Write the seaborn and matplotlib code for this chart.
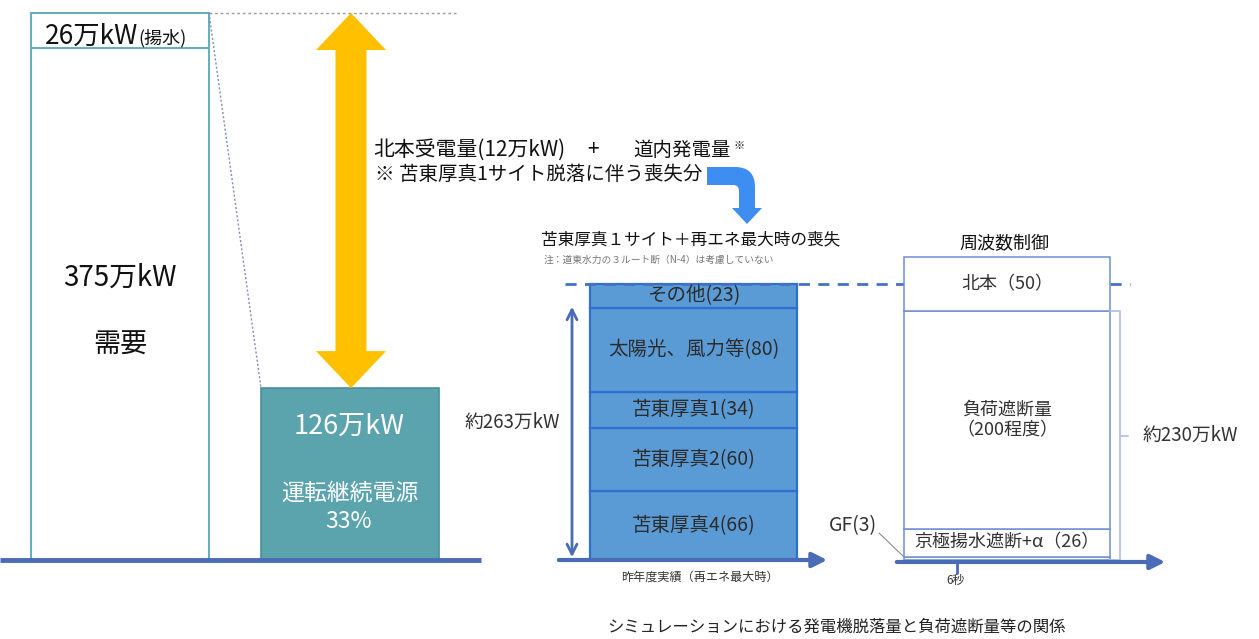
import numpy as np
import matplotlib.pyplot as plt
import seaborn as sns
from matplotlib.patches import Polygon, PathPatch
from matplotlib.path import Path

sns.set_theme(style='white')
plt.rcParams['font.family'] = ['Noto Sans CJK JP', 'DejaVu Sans']

# 左: 需要と運転継続電源 (万kW)
demand = 375
pumped = 26
continuing = 126
continuing_share = 33

# 中: 苫東厚真1サイト+再エネ最大時の喪失 (万kW)
loss_labels = ['苫東厚真4', '苫東厚真2', '苫東厚真1', '太陽光、風力等', 'その他']
loss_values = [66, 60, 34, 80, 23]

# 右: 周波数制御 (万kW)
ctrl_labels = ['GF', '京極揚水遮断+α', '負荷遮断量', '北本']
ctrl_values = [3, 26, 200, 50]
ctrl_approx = 230

W, H = 1259, 639
BASE = 560
LINE = '#4a6bb5'
TEAL = '#6aaeb9'
DARK = '#2b2b2b'

fig = plt.figure(figsize=(W / 100, H / 100), dpi=100)


def panel(x0, x1, top, total):
    ax = fig.add_axes([x0 / W, (H - BASE) / H, (x1 - x0) / W, (BASE - top) / H])
    ax.set_xlim(x0, x1)
    ax.set_ylim(0, total)
    ax.axis('off')
    return ax


# 左パネル
axL = panel(0, 460, 13, demand + pumped)
axL.bar(120, demand, width=178, color='white', edgecolor=TEAL, lw=1.5, clip_on=False)
axL.bar(120, pumped, bottom=demand, width=178, color='white', edgecolor=TEAL, lw=1.5, clip_on=False)
axL.bar(350, continuing, width=178, color='#5ba3ad', edgecolor='#4b8e98', lw=1.2, clip_on=False)
px_left = (BASE - 13) / (demand + pumped)
y_cont = BASE - continuing * px_left

# 中パネル
axM = panel(440, 860, 284, sum(loss_values))
bottom = 0
for lab, v in zip(loss_labels, loss_values):
    axM.bar(693.5, v, bottom=bottom, width=207, color='#5b9bd5', edgecolor='#2f6fcf', lw=1.6, clip_on=False)
    axM.text(693.5, bottom + v / 2, f'{lab}({v})', ha='center', va='center', fontsize=14, color=DARK)
    bottom += v
axM.plot([565, 905], [bottom, bottom], ls=(0, (4, 3)), color='#4472c4', lw=2, clip_on=False)
axM.plot([1110, 1130], [bottom, bottom], ls=(0, (4, 3)), color='#4472c4', lw=2, clip_on=False)
top_arrow = bottom - loss_values[-1]
axM.annotate('', xy=(572, top_arrow + 4), xytext=(572, 0),
             arrowprops=dict(arrowstyle='<->', color=LINE, lw=2, mutation_scale=18),
             annotation_clip=False)
axM.text(560, sum(loss_values) * 0.5, f'約{sum(loss_values)}万kW', ha='right', va='center',
         fontsize=13.5, color='#333333')

# 右パネル
axR = panel(860, 1259, 257, sum(ctrl_values))
ctrl_text = ['', f'{ctrl_labels[1]}（{ctrl_values[1]}）',
             f'{ctrl_labels[2]}\n（{ctrl_values[2]}程度）', f'{ctrl_labels[3]}（{ctrl_values[3]}）']
bottom = 0
for txt, v in zip(ctrl_text, ctrl_values):
    axR.bar(1007, v, bottom=bottom, width=206, color='white', edgecolor='#6f8fd0', lw=1.1, clip_on=False)
    if txt:
        axR.text(1007, bottom + v / 2, txt, ha='center', va='center', fontsize=13,
                 color='#333333', linespacing=1.2)
    bottom += v
brk = sum(ctrl_values[:3])
axR.plot([1110, 1120, 1120, 1110], [brk, brk, 0, 0], color='#b4c2e2', lw=1.3, clip_on=False)
axR.plot([1120, 1128], [brk / 2, brk / 2], color='#b4c2e2', lw=1.3, clip_on=False)
axR.text(1143, brk / 2, f'約{ctrl_approx}万kW', ha='left', va='center', fontsize=13.5, color='#333333')

# 重ね描き用 (ピクセル座標)
ov = fig.add_axes([0, 0, 1, 1])
ov.set_xlim(0, W)
ov.set_ylim(H, 0)
ov.axis('off')

ov.plot([0, 481], [BASE, BASE], color=LINE, lw=3.5, solid_capstyle='butt')
ov.annotate('', xy=(830, BASE), xytext=(556, BASE),
            arrowprops=dict(arrowstyle='-|>', color=LINE, lw=3, mutation_scale=22))
ov.annotate('', xy=(1168, 562), xytext=(894, 562),
            arrowprops=dict(arrowstyle='-|>', color=LINE, lw=3, mutation_scale=22))
ov.plot([957, 957], [562, 573], color=LINE, lw=2)
ov.text(956, 580, '6秒', ha='center', va='center', fontsize=8.5, color='#333333')

# 点線
ov.plot([209, 456], [13, 13], ls=(0, (2, 2)), color='#9a9a9a', lw=1)
ov.plot([209, 261], [13, y_cont], ls=(0, (1.5, 1.5)), color='#7f8fb5', lw=1)

# 黄色の矢印
cx, top, bot = 351, 13, y_cont
hw, sw, hl = 35, 15.5, 37
yellow = [(cx, top), (cx + hw, top + hl), (cx + sw, top + hl), (cx + sw, bot - hl),
          (cx + hw, bot - hl), (cx, bot), (cx - hw, bot - hl), (cx - sw, bot - hl),
          (cx - sw, top + hl), (cx - hw, top + hl)]
ov.add_patch(Polygon(yellow, closed=True, fc='#ffc000', ec='none'))

# 青い曲がり矢印
verts = [(707, 167), (735, 167), (755, 167), (755, 187), (755, 208), (762, 208), (747, 224),
         (732, 208), (739, 208), (739, 191), (739, 185), (733, 185), (707, 185), (707, 167)]
codes = [Path.MOVETO, Path.LINETO, Path.CURVE3, Path.CURVE3, Path.LINETO, Path.LINETO, Path.LINETO,
         Path.LINETO, Path.LINETO, Path.LINETO, Path.CURVE3, Path.CURVE3, Path.LINETO, Path.CLOSEPOLY]
ov.add_patch(PathPatch(Path(verts, codes), fc='#3d8ef0', ec='none'))

# 左の文字
t26 = ov.text(45, 36, f'{pumped}万kW', ha='left', va='center', fontsize=19, color='#111111')
ov.annotate('(揚水)', xy=(1, 0.42), xycoords=t26, ha='left', va='center', fontsize=13, color='#111111')
ov.text(120, 278, f'{demand}万kW', ha='center', va='center', fontsize=20, color='#111111')
ov.text(120, 345, '需要', ha='center', va='center', fontsize=19.5, color='#111111')
ov.text(349, 426, f'{continuing}万kW', ha='center', va='center', fontsize=19.5, color='white')
ov.text(350, 493, '運転継続電源', ha='center', va='center', fontsize=16.5, color='white')
ov.text(349, 521, f'{continuing_share}%', ha='center', va='center', fontsize=16.5, color='white')

ov.text(373, 150, '北本受電量(12万kW)', ha='left', va='center', fontsize=15, color='#111111')
ov.text(593, 150, '+', ha='center', va='center', fontsize=15, color='#111111')
ov.text(633, 150, '道内発電量', ha='left', va='center', fontsize=14, color='#111111')
ov.text(734, 146, '※', ha='left', va='center', fontsize=8, color='#111111')
ov.text(375, 175, '※ 苫東厚真1サイト脱落に伴う喪失分', ha='left', va='center', fontsize=14, color='#111111')

ov.text(691, 240, '苫東厚真１サイト＋再エネ最大時の喪失', ha='center', va='center', fontsize=12, color='#111111')
ov.text(659, 260, '注：道東水力の３ルート断（N-4）は考慮していない', ha='center', va='center', fontsize=7, color='#777777')
ov.text(1004, 244, '周波数制御', ha='center', va='center', fontsize=13, color='#111111')
ov.text(700, 577, '昨年度実績（再エネ最大時）', ha='center', va='center', fontsize=8.7, color='#333333')

ov.text(853, 526, f'{ctrl_labels[0]}({ctrl_values[0]})', ha='center', va='center', fontsize=14, color='#333333')
ov.plot([879, 903], [533, 556], color='#8c8c8c', lw=0.8)

ov.text(837, 627, 'シミュレーションにおける発電機脱落量と負荷遮断量等の関係', ha='center', va='center',
        fontsize=11.8, color='#222222')

fig.savefig('out.png', dpi=100)
